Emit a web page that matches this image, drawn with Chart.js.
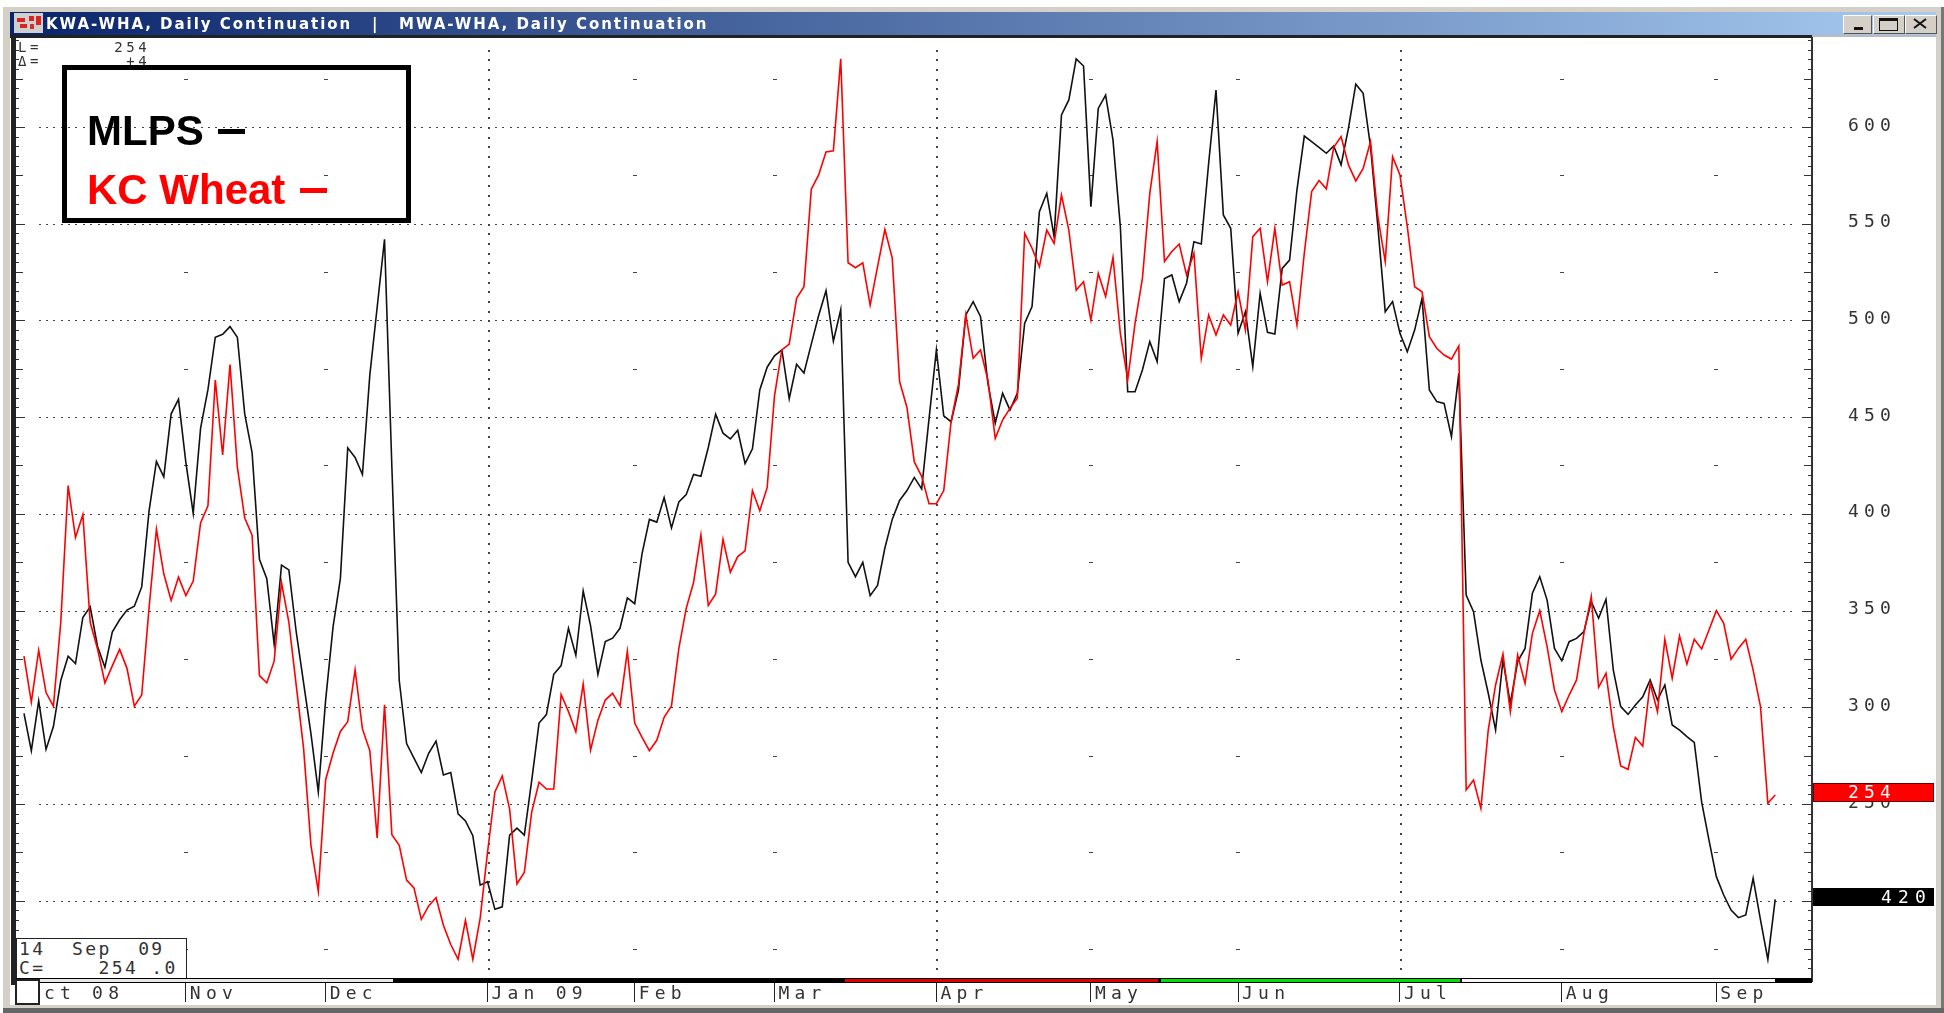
<!DOCTYPE html>
<html><head><meta charset="utf-8">
<script src="https://cdn.jsdelivr.net/npm/chart.js@4"></script>
<style>
html,body{margin:0;padding:0;background:#fff;width:1944px;height:1013px;overflow:hidden}
#wrap{position:relative;width:1944px;height:1013px;filter:blur(0.35px)}
canvas{position:absolute;left:0;top:0}
.a{position:absolute;box-sizing:border-box}
.t{position:absolute;white-space:pre;line-height:1}
.mono{font-family:"DejaVu Sans Mono",monospace;color:#333}
.tb{font:bold 15px "DejaVu Sans",sans-serif;color:#fff;top:15px;letter-spacing:1.95px}
.btn{position:absolute;top:15px;height:17px;background:#d4d0c8;border:1px solid;border-color:#fff #555 #555 #fff}
.lg{font:bold 42px "Liberation Sans",Arial,sans-serif;left:87px}
.dash{display:inline-block;width:27px;height:5px;vertical-align:11px;margin-left:3px;background:currentColor}
</style></head><body><div id="wrap">
<canvas id="c" width="1944" height="1013"></canvas>

<!-- window frame -->
<div class="a" style="left:3px;top:7px;width:1938px;height:5px;background:#d4d0c8"></div>
<div class="a" style="left:3px;top:7px;width:7px;height:1001px;background:#d4d0c8"></div>
<div class="a" style="left:1936px;top:7px;width:5px;height:1001px;background:#d4d0c8"></div>
<div class="a" style="left:1941px;top:7px;width:3px;height:1006px;background:#777"></div>
<div class="a" style="left:3px;top:1005px;width:1938px;height:3px;background:#d4d0c8"></div>
<div class="a" style="left:3px;top:1008px;width:1941px;height:5px;background:#666"></div>
<div class="a" style="left:10px;top:12px;width:1926px;height:23px;background:linear-gradient(90deg,#0a246a 0%,#a6caf0 100%)"></div>
<div class="a" style="left:10px;top:35px;width:1802px;height:3px;background:#222"></div>
<div class="a" style="left:1812px;top:35px;width:124px;height:2px;background:#bbb"></div>
<div class="a" style="left:11px;top:35px;width:5px;height:950px;background:#222"></div>
<div class="a" style="left:1811px;top:37px;width:2px;height:945px;background:#333"></div>

<!-- title bar -->
<div class="a" style="left:14px;top:13px;width:29px;height:20px;background:#d0cfd0">
  <div class="a" style="left:3px;top:5px;width:8px;height:4px;background:#d22"></div>
  <div class="a" style="left:6px;top:11px;width:7px;height:4px;background:#d22"></div>
  <div class="a" style="left:15px;top:3px;width:5px;height:5px;background:#d22"></div>
  <div class="a" style="left:22px;top:3px;width:5px;height:9px;background:#d22"></div>
  <div class="a" style="left:16px;top:11px;width:4px;height:5px;background:#c33"></div>
</div>
<div class="t tb" style="left:46px">KWA-WHA, Daily Continuation</div>
<div class="t tb" style="left:372px">|</div>
<div class="t tb" style="left:399px">MWA-WHA, Daily Continuation</div>
<div class="btn" style="left:1843px;width:27px"><div class="a" style="left:10px;top:11px;width:9px;height:3px;background:#111"></div></div>
<div class="btn" style="left:1873px;width:30px"><div class="a" style="left:5px;top:2px;width:19px;height:13px;border:1px solid #111;border-top:3px solid #111"></div></div>
<div class="btn" style="left:1905px;width:30px"><svg width="28" height="15" style="position:absolute;left:0;top:0"><path d="M8 3L20 12M20 3L8 12" stroke="#111" stroke-width="2"/></svg></div>

<!-- readouts -->
<div class="t mono" style="left:18px;top:40px;font-size:14px;letter-spacing:3.6px">L=      254</div>
<div class="t mono" style="left:18px;top:54px;font-size:14px;letter-spacing:3.6px">Δ=       +4</div>

<!-- legend -->
<div class="a" style="left:62px;top:65px;width:349px;height:158px;border:5px solid #000"></div>
<div class="t lg" style="top:107px;color:#000">MLPS <span class="dash"></span></div>
<div class="t lg" style="top:166px;color:#f00">KC Wheat <span class="dash"></span></div>

<!-- date box -->
<div class="a" style="left:16px;top:938px;width:171px;height:41px;background:#fff;border:1px solid #222"></div>
<div class="t mono" style="left:19px;top:940px;font-size:18px;letter-spacing:2.4px">14  Sep  09</div>
<div class="t mono" style="left:19px;top:959px;font-size:18px;letter-spacing:2.4px">C=    254 .0</div>

<!-- time strip -->
<div class="a" style="left:16px;top:978px;width:1796px;height:5px;background:#000"></div>
<div class="a" style="left:38px;top:979px;width:355px;height:3px;background:#e8e8e8"></div>
<div class="a" style="left:845px;top:979px;width:313px;height:3px;background:#e00000"></div>
<div class="a" style="left:1161px;top:979px;width:299px;height:3px;background:#00e000"></div>
<div class="a" style="left:1462px;top:979px;width:313px;height:3px;background:#f4f4f4"></div>
<div class="a" style="left:15px;top:979px;width:25px;height:26px;background:#fff;border:2px solid #222"></div>

<!-- last value tags -->
<div class="a" style="left:1813px;top:783px;width:121px;height:19px;background:#f00;border:1px solid #600"></div>
<div class="t mono" style="left:1848px;top:783px;font-size:18px;letter-spacing:5.2px;color:#fff">254</div>
<div class="a" style="left:1813px;top:888px;width:121px;height:18px;background:#000"></div>
<div class="t mono" style="left:1881px;top:888px;font-size:18px;letter-spacing:6.2px;color:#fff">420</div>
</div>
<script>
const mlps = [
296.8,277.5,303.3,278.2,290,313.8,326.4,322.6,346.4,351.9,
331.4,320.6,338.9,345.2,350.2,352.2,362.2,401.5,427.1,419.1,
451.7,459.2,426.6,400.3,444.2,464.2,491.3,492.8,496.8,491.3,
451.7,431.6,376.5,366.5,332.6,373.5,371,338.9,312.6,286.3,
256.2,303.8,341.4,366.5,434.1,429.1,420.3,471.7,506.8,541.9,
424.1,313.8,281.2,273.7,266.2,276.2,282.5,265,266.2,244.9,
241.2,233.6,208,209.8,195.5,196.8,233.9,237.5,233.9,262.1,
291.8,296.2,317,321.5,340.8,326.8,360.1,342.2,317,333.9,
335.7,340.8,356.5,353.5,379.4,397.1,395.7,408.4,392.7,406.1,
409.9,420.3,419.4,434.3,451.5,441.7,438.7,443.2,426,433.6,
464,475.8,481.7,484.7,459.5,477.3,472.8,487.7,502.5,515.3,
489.2,505.5,374.9,367.5,374.9,357.7,363,382.3,397.1,406.9,
412,418.8,412.9,449.1,484.7,450.6,447.6,464,502.8,509.7,
501.9,467.5,446.8,462.3,453.7,462.3,498.5,507.1,556.2,565.7,
543.3,606.2,614,635.2,631.5,558.8,609.6,616.5,593.3,548.5,
463.1,463.1,474.4,489,478.7,521.7,523.5,509.7,519.2,540.7,
539.5,581.2,619.1,554.5,547.6,493.3,504.5,476.1,514,493.8,
493,526.9,531.2,567.4,595.3,592.4,589.5,586.4,590.2,580.4,
599.3,622.1,617.4,589.8,548.5,504.5,509.7,493.3,483.8,495,
511.4,464,458,457.1,439.9,472.6,358,349.4,324.4,307.2,
288.2,324.4,302,323.6,330.4,358.9,367.5,355.4,330.4,324,
333.9,335.6,339.1,354.6,346,355.8,319.2,300.3,296.3,301.1,
305.4,314.1,303.7,311.5,290.8,288.2,284.8,281.8,251.1,231.3,
212.4,202.9,195.1,191.2,192.6,211.5,190,169.6,200.7];
const kcWheat = [
326.4,302.6,329.4,307.6,300.5,343.9,414.6,387.8,399.5,343.9,
330.1,312.6,321.4,329.9,320.1,300.5,306.3,351.4,392,369,
355.2,367.2,357.7,365.2,395.3,404.1,469.2,430.4,477.2,424.1,
397.8,389,316.3,312.6,323.8,364.4,343.9,311.3,278.7,228.6,
204.8,262.5,276.2,287.5,292.5,319.3,288.8,277.5,232.4,301.3,
234.1,228.6,210.6,206.6,190.3,197.3,201.6,187.3,177.3,169.7,
189.8,169.7,191,225,256.2,264.5,247.3,208.7,214.6,245.8,
261.2,257.7,257.7,306.6,297.7,287.3,312,277.8,293.3,303.7,
307.2,300.7,328.9,291.8,284.4,277.5,282.9,294.8,300.7,330.4,
351.1,364.5,389.1,352.6,358.6,386.8,369.8,377.9,380.8,412,
401.6,413.5,461,484.7,487.7,511.4,517.4,567.8,575.2,587.1,
587.7,635.2,529.8,527.2,529.8,507.9,527.7,547,532.2,468.4,
455,426.8,419.4,405.2,405.2,412,447.6,466.9,502.8,480.4,
484.7,469.2,439,448.5,454.5,459.7,545,537.3,527.8,546.7,
539.8,564.8,546.7,515.7,520,500.2,524.3,512.3,532.6,493.3,
469.2,498.5,521.7,565.7,592.4,530.4,535.6,539.5,523.5,534.7,
480.4,502.8,492.5,502.8,497.6,514.8,495,543.3,547.6,520,
547.6,518.3,520,497.6,534.7,566.6,572.3,568,589.5,595,
580.4,572.1,578.6,592.4,553.6,530.4,584.6,575.2,548.5,517.4,
514.8,491.6,485.6,482.1,480,486.8,257.2,262.3,247.7,288.2,
311.5,327.5,297.7,327,312.3,338.2,349.9,331.3,308.9,297.7,
306.3,314.1,338.2,357.2,310.3,317.5,289.9,269.6,267.9,284.4,
279.9,312.3,297.7,335.1,315,336.8,322.3,335.1,330.1,339.9,
349.9,343.4,324.8,330.4,335.1,319.2,300.3,250.3,254.6];
const monthDays   = [0,22,41,63,83,102,124,145,165,187,209,230];
const monthLabels = ['Oct 08','Nov','Dec','Jan 09','Feb','Mar','Apr','May','Jun','Jul','Aug','Sep'];
const quarterDays = [63,124,187];
const yLabels     = [600,550,500,450,400,350,300,250,200];

const toPts = a => a.map((v,i)=>({x:i,y:v}));

const chrome = {
  id:'chrome',
  beforeDatasetsDraw(chart){
    const {ctx,scales:{x,y},chartArea:ca}=chart;
    ctx.save();
    ctx.fillStyle='#444';
    for(const v of yLabels){
      const py=Math.round(y.getPixelForValue(v));
      for(let i=2;i<=240;i++) ctx.fillRect(Math.round(x.getPixelForValue(i)),py,2,1);
    }
    for(const d of quarterDays){
      const px=Math.round(x.getPixelForValue(d));
      for(let v=640;v>=165;v-=5) ctx.fillRect(px,Math.round(y.getPixelForValue(v)),2,2);
    }
    for(const d of monthDays.slice(1)){
      if(quarterDays.includes(d)) continue;
      const px=Math.round(x.getPixelForValue(d));
      for(let v=625;v>=175;v-=50) ctx.fillRect(px-2,Math.round(y.getPixelForValue(v)),4,1);
    }
    ctx.fillStyle='#333';
    for(let v=645;v>=165;v-=5){
      const py=Math.round(y.getPixelForValue(v));
      const len=v%50===0?10:(v%25===0?8:4);
      ctx.fillRect(ca.left,py,len,1);
      ctx.fillRect(ca.right-len,py,len,1);
    }
    ctx.restore();
  }
};
const spacing = {id:'spacing',beforeDraw(chart){chart.ctx.letterSpacing='5.2px';}};

new Chart(document.getElementById('c'),{
  type:'line',
  data:{datasets:[
    {label:'MLPS',data:toPts(mlps),borderColor:'#111',borderWidth:1.6,pointRadius:0,tension:0,order:2},
    {label:'KC Wheat',data:toPts(kcWheat),borderColor:'#f00',borderWidth:1.6,pointRadius:0,tension:0,order:1}
  ]},
  options:{
    responsive:false,animation:false,
    layout:{padding:{left:15,top:38,right:0,bottom:0}},
    plugins:{legend:{display:false},title:{display:false},tooltip:{enabled:false}},
    scales:{
      x:{type:'linear',position:'bottom',min:-1.22,max:243,
        afterBuildTicks:a=>{a.ticks=monthDays.map(value=>({value}));},
        afterFit:a=>{a.height=35;a.paddingLeft=0;a.paddingRight=0;},
        border:{display:false},
        grid:{drawOnChartArea:false,drawTicks:true,tickLength:24,color:'#222',tickWidth:1},
        ticks:{autoSkip:false,maxRotation:0,align:'start',labelOffset:4,padding:-18,
          color:'#333',font:{family:'"DejaVu Sans Mono",monospace',size:18},
          callback:(v,i)=>monthLabels[i]}
      },
      y:{type:'linear',position:'right',min:160,max:646,
        afterBuildTicks:a=>{a.ticks=yLabels.map(value=>({value}));},
        afterFit:a=>{a.width=132;a.paddingTop=0;a.paddingBottom=0;},
        border:{display:false},
        grid:{display:false,drawTicks:false},
        ticks:{autoSkip:false,padding:36,labelOffset:-1,color:'#333',
          font:{family:'"DejaVu Sans Mono",monospace',size:18},
          callback:v=>String(v)}
      }
    }
  },
  plugins:[spacing,chrome]
});
</script>
</body></html>
